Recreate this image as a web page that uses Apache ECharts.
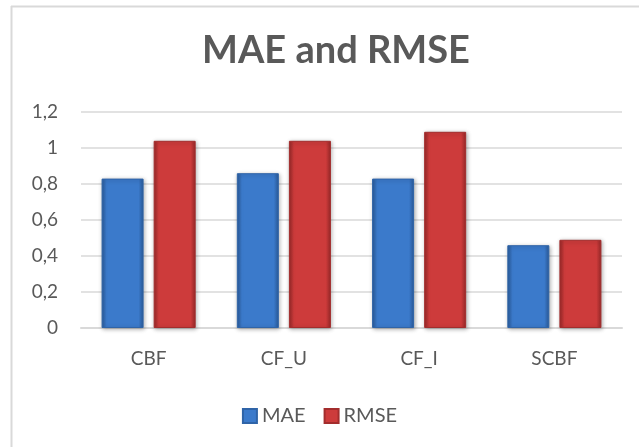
<!DOCTYPE html>
<html>
<head>
<meta charset="utf-8">
<script src="https://cdn.jsdelivr.net/npm/echarts@6/dist/echarts.min.js"></script>
<style>
  html, body { margin: 0; padding: 0; background: #fff; }
  #chart { width: 639px; height: 447px; }
</style>
</head>
<body>
<div id="chart"></div>
<script>
var categories = ['CBF', 'CF_U', 'CF_I', 'SCBF'];
var maeValues = [0.83, 0.86, 0.83, 0.46];
var rmseValues = [1.04, 1.04, 1.09, 0.49];
var yTicks = [0, 0.2, 0.4, 0.6, 0.8, 1, 1.2];

function barFill(edge, mid) {
  return new echarts.graphic.LinearGradient(0, 0, 1, 0, [
    { offset: 0, color: edge },
    { offset: 0.12, color: mid },
    { offset: 0.88, color: mid },
    { offset: 1, color: edge }
  ]);
}

var myChart = echarts.init(document.getElementById('chart'));
var fontName = 'Lato';
var option = {
  backgroundColor: '#fff',
  animation: false,
  title: {
    text: 'MAE and RMSE',
    left: 331,
    textAlign: 'center',
    top: 27,
    textStyle: { color: '#595959', fontSize: 38, fontWeight: 'bold', fontFamily: fontName }
  },
  legend: {
    data: ['MAE', 'RMSE'],
    left: 'center',
    top: 401,
    itemWidth: 14,
    itemHeight: 14,
    itemGap: 18,
    icon: 'rect',
    textStyle: { color: '#595959', fontSize: 20, fontFamily: fontName }
  },
  grid: { left: 81, right: 17, top: 112, bottom: 119, containLabel: false },
  xAxis: {
    type: 'category',
    data: categories,
    axisLine: { lineStyle: { color: '#d9d9d9', width: 2 } },
    axisTick: { show: false },
    axisLabel: { color: '#595959', fontSize: 19, fontFamily: fontName, margin: 21 }
  },
  yAxis: {
    type: 'value',
    min: 0,
    max: 1.2,
    interval: 0.2,
    axisLine: { show: false },
    axisTick: { show: false },
    splitLine: { lineStyle: { color: '#d9d9d9', width: 1.5 } },
    axisLabel: {
      color: '#595959', fontSize: 19, fontFamily: fontName, margin: 23,
      formatter: function (v) {
        var t = yTicks.find(function (x) { return Math.abs(x - v) < 1e-6; });
        return String(t === undefined ? v : t).replace('.', ',');
      }
    }
  },
  series: [
    {
      name: 'MAE',
      type: 'bar',
      data: maeValues,
      barWidth: 42,
      barGap: '24%',
      itemStyle: {
        color: barFill('#2a5a99', '#3b7acb'),
        borderColor: '#2f64a8',
        borderWidth: 1,
        shadowColor: 'rgba(0,0,0,0.3)',
        shadowBlur: 4,
        shadowOffsetX: 1,
        shadowOffsetY: 1
      }
    },
    {
      name: 'RMSE',
      type: 'bar',
      data: rmseValues,
      barWidth: 42,
      itemStyle: {
        color: barFill('#982828', '#cd3b3b'),
        borderColor: '#a32d2d',
        borderWidth: 1,
        shadowColor: 'rgba(0,0,0,0.3)',
        shadowBlur: 4,
        shadowOffsetX: 1,
        shadowOffsetY: 1
      }
    }
  ],
  graphic: [
    { type: 'line', shape: { x1: 11.5, y1: 6, x2: 11.5, y2: 447 }, style: { stroke: '#d9d9d9', lineWidth: 2 } },
    { type: 'line', shape: { x1: 11, y1: 6.5, x2: 639, y2: 6.5 }, style: { stroke: '#d9d9d9', lineWidth: 2 } }
  ]
};
myChart.setOption(option);
</script>
</body>
</html>
